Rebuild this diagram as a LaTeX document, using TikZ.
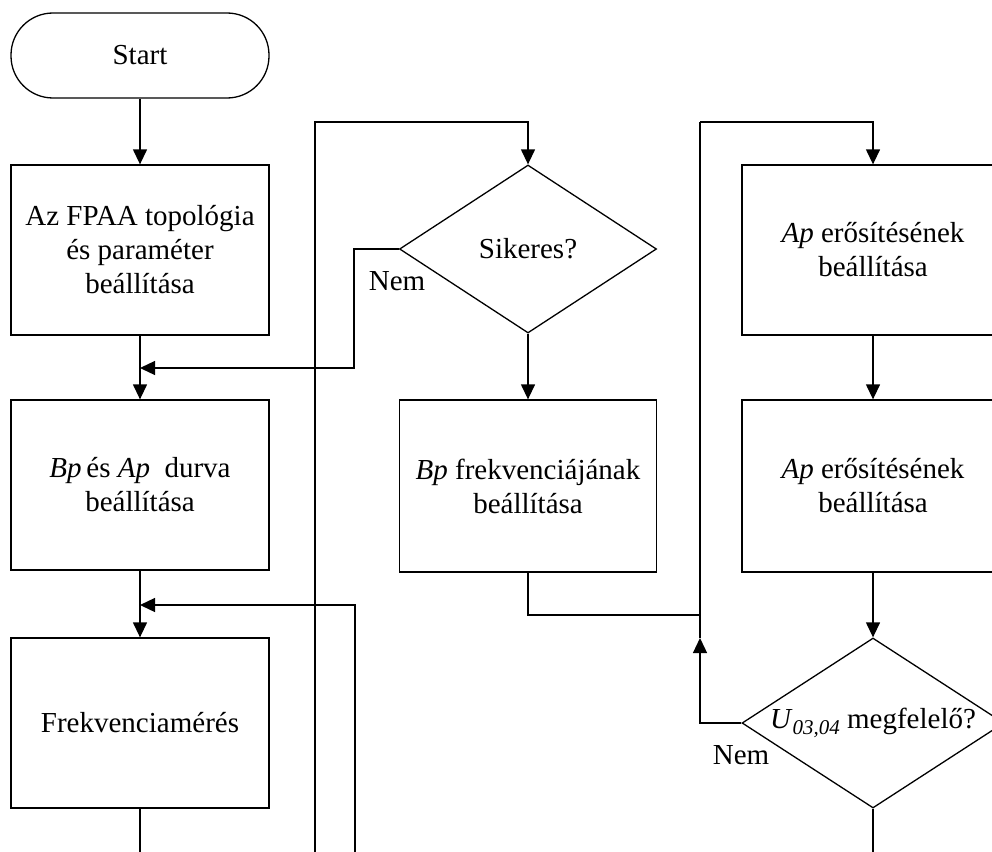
\documentclass[tikz,border=0pt]{standalone}
\usepackage{fontspec}
\setmainfont{Liberation Serif}
\usetikzlibrary{shapes.geometric,arrows.meta}
\begin{document}
\begin{tikzpicture}[x=1pt,y=-1pt,
  every node/.style={font=\fontsize{29}{34}\selectfont},
  boxnode/.style={draw,line width=1.3pt,align=center,inner sep=0pt,
    minimum width=258pt,minimum height=170pt},
  termnode/.style={draw,line width=1.3pt,rounded corners=42pt,inner sep=0pt,
    minimum width=258pt,minimum height=85pt},
  decnode/.style={draw,line width=1.3pt,diamond,aspect=1.53,inner sep=0pt,align=center,
    minimum width=257pt,minimum height=168pt},
  wire/.style={line width=1.3pt},
  arr/.style={wire,-{Triangle[length=15pt,width=14pt]}},
  lbl/.style={inner sep=0pt}]
\useasboundingbox (0,0) rectangle (992,851);
\clip (0,0) rectangle (992,851);

% left column
\node[termnode] (start) at (140,55.5) {Start};
\node[boxnode] (b1) at (140,250) {Az FPAA topológia\\és paraméter\\beállítása};
\node[boxnode] (b2) at (140,485) {\textit{Bp}\,és \textit{Ap}\ \ durva\\beállítása};
\node[boxnode] (b3) at (140,723) {Frekvenciamérés};

% middle column
\node[decnode] (d1) at (528,249) {Sikeres?};
\node[boxnode,minimum width=257pt,minimum height=172pt] (b4) at (528,486) {\textit{Bp} frekvenciájának\\beállítása};

% right column
\node[boxnode,minimum width=262pt] (b5) at (873,250) {\textit{Ap} erősítésének\\beállítása};
\node[boxnode,minimum width=262pt,minimum height=172pt] (b6) at (873,486) {\textit{Ap} erősítésének\\beállítása};
\node[decnode,minimum width=262pt,minimum height=170pt] (d2) at (873,723)
  {\textit{U}\raisebox{-0.4ex}{\fontsize{21}{21}\selectfont\itshape 03,04} megfelelő?};

% labels
\node[lbl] (n1) at (397,281) {Nem};
\node[lbl] (n2) at (741,755) {Nem};

% junction points and free ends
\coordinate (j1) at (140,368);
\coordinate (j2) at (140,605);
\coordinate (j3) at (700,615);
\coordinate (j4) at (700,638);
\coordinate (bot1) at (315,870);
\coordinate (bot2) at (355,870);

% main flow
\draw[arr] (start) -- (b1);
\draw[arr] (b1) -- (b2);
\draw[arr] (b2) -- (b3);
\draw[wire] (b3.south) -- ++(0,60);
\draw[arr] (d1) -- (b4);
\draw[arr] (b5) -- (b6);
\draw[arr] (b6) -- (d2);
\draw[wire] (d2.south) -- ++(0,60);

% loops back
\draw[arr] (d1.west) -- ++(-45,0) |- (j1);
\draw[arr] (bot2) |- (j2);
\draw[arr] (bot1) -- (315,122) -| (d1.north);
\draw[wire] (b4.south) |- (j3);
\draw[arr] (d2.west) -| (j4);
\draw[wire] (j4) -- (700,122);
\draw[arr] (700,122) -| (b5.north);
\end{tikzpicture}
\end{document}
